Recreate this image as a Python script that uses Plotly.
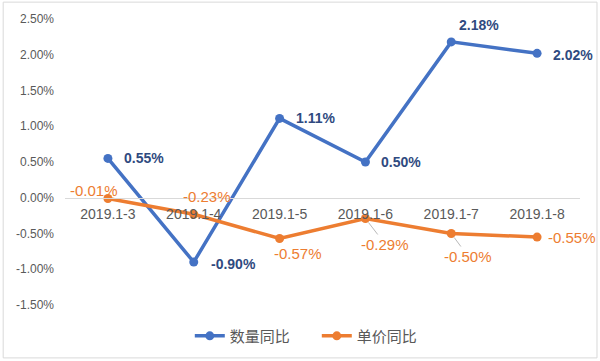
import plotly.graph_objects as go

categories = ["2019.1-3", "2019.1-4", "2019.1-5", "2019.1-6", "2019.1-7", "2019.1-8"]
qty_yoy = [0.55, -0.90, 1.11, 0.50, 2.18, 2.02]
price_yoy = [-0.01, -0.23, -0.57, -0.29, -0.50, -0.55]
tick_vals = [-1.5, -1.0, -0.5, 0.0, 0.5, 1.0, 1.5, 2.0, 2.5]
tick_text = ["-1.50%", "-1.00%", "-0.50%", "0.00%", "0.50%", "1.00%", "1.50%", "2.00%", "2.50%"]

blue = "#4472C4"
orange = "#ED7D31"
navy = "#2F4A80"
font = "Liberation Sans, Arial, sans-serif"

# label offsets (pixels) relative to each point: (xshift, yshift, xanchor)
qty_off = [(14, 0, "left"), (15, -2, "left"), (14, 0, "left"), (14, 0, "left"), (28, 17, "center"), (14, -2, "left")]
price_off = [(-14, 8, "center"), (13, 18, "center"), (18, -15, "center"), None, None, (9, 0, "left")]
price_arrow = [None, None, None, (20, 26), (17, 23), None]

fig = go.Figure()
fig.add_trace(go.Scatter(
    x=categories, y=qty_yoy, name="数量同比", mode="lines+markers",
    line=dict(color=blue, width=3.5), marker=dict(size=9, color=blue),
    cliponaxis=False,
))
fig.add_trace(go.Scatter(
    x=categories, y=price_yoy, name="单价同比", mode="lines+markers",
    line=dict(color=orange, width=3.5), marker=dict(size=9, color=orange),
    cliponaxis=False,
))

annotations = []
for c, v, (dx, dy, xa) in zip(categories, qty_yoy, qty_off):
    annotations.append(dict(x=c, y=v, xref="x", yref="y", text=f"<b>{v:.2f}%</b>",
                            showarrow=False, xanchor=xa, yanchor="middle",
                            xshift=dx, yshift=dy,
                            font=dict(color=navy, size=14, family=font)))
for c, v, off, arr in zip(categories, price_yoy, price_off, price_arrow):
    if arr is None:
        dx, dy, xa = off
        annotations.append(dict(x=c, y=v, xref="x", yref="y", text=f"{v:.2f}%",
                                showarrow=False, xanchor=xa, yanchor="middle",
                                xshift=dx, yshift=dy,
                                font=dict(color=orange, size=15, family=font)))
    else:
        annotations.append(dict(x=c, y=v, xref="x", yref="y", text=f"{v:.2f}%",
                                showarrow=True, arrowhead=0, arrowwidth=0.8,
                                arrowcolor="#A6A6A6", ax=arr[0], ay=arr[1],
                                standoff=5, xanchor="center", yanchor="middle",
                                font=dict(color=orange, size=15, family=font)))

fig.update_layout(
    width=600, height=361,
    margin=dict(l=65, r=20, t=19, b=56, autoexpand=False),
    paper_bgcolor="white", plot_bgcolor="white",
    showlegend=True,
    legend=dict(orientation="h", x=0.528, xanchor="center", xref="container",
                y=0.069, yanchor="middle", yref="container",
                font=dict(family="Noto Sans CJK SC, sans-serif", size=15, color="#595959"),
                itemwidth=30, tracegroupgap=0,
                entrywidth=82, entrywidthmode="pixels"),
    xaxis=dict(
        type="category", anchor="free", position=0.375, automargin=False,
        showline=True, linecolor="#D9D9D9", linewidth=1,
        showgrid=False, ticks="", zeroline=False,
        tickfont=dict(family=font, size=14, color="#595959"),
        ticklabelstandoff=3,
        range=[-0.5, 5.5],
    ),
    yaxis=dict(
        range=[-1.5, 2.5], tickvals=tick_vals, ticktext=tick_text, automargin=False,
        showgrid=False, zeroline=False, showline=False,
        tickfont=dict(family=font, size=12, color="#595959"),
        ticklabelstandoff=10,
    ),
    annotations=annotations,
    shapes=[dict(type="rect", xref="paper", yref="paper",
                 x0=-0.120, x1=1.033, y0=-0.185, y1=1.059,
                 line=dict(color="#D9D9D9", width=1))],
)

fig.write_html("out.html", config={"displayModeBar": False},
               post_script="document.body.style.margin='0';document.body.style.overflow='hidden';")
